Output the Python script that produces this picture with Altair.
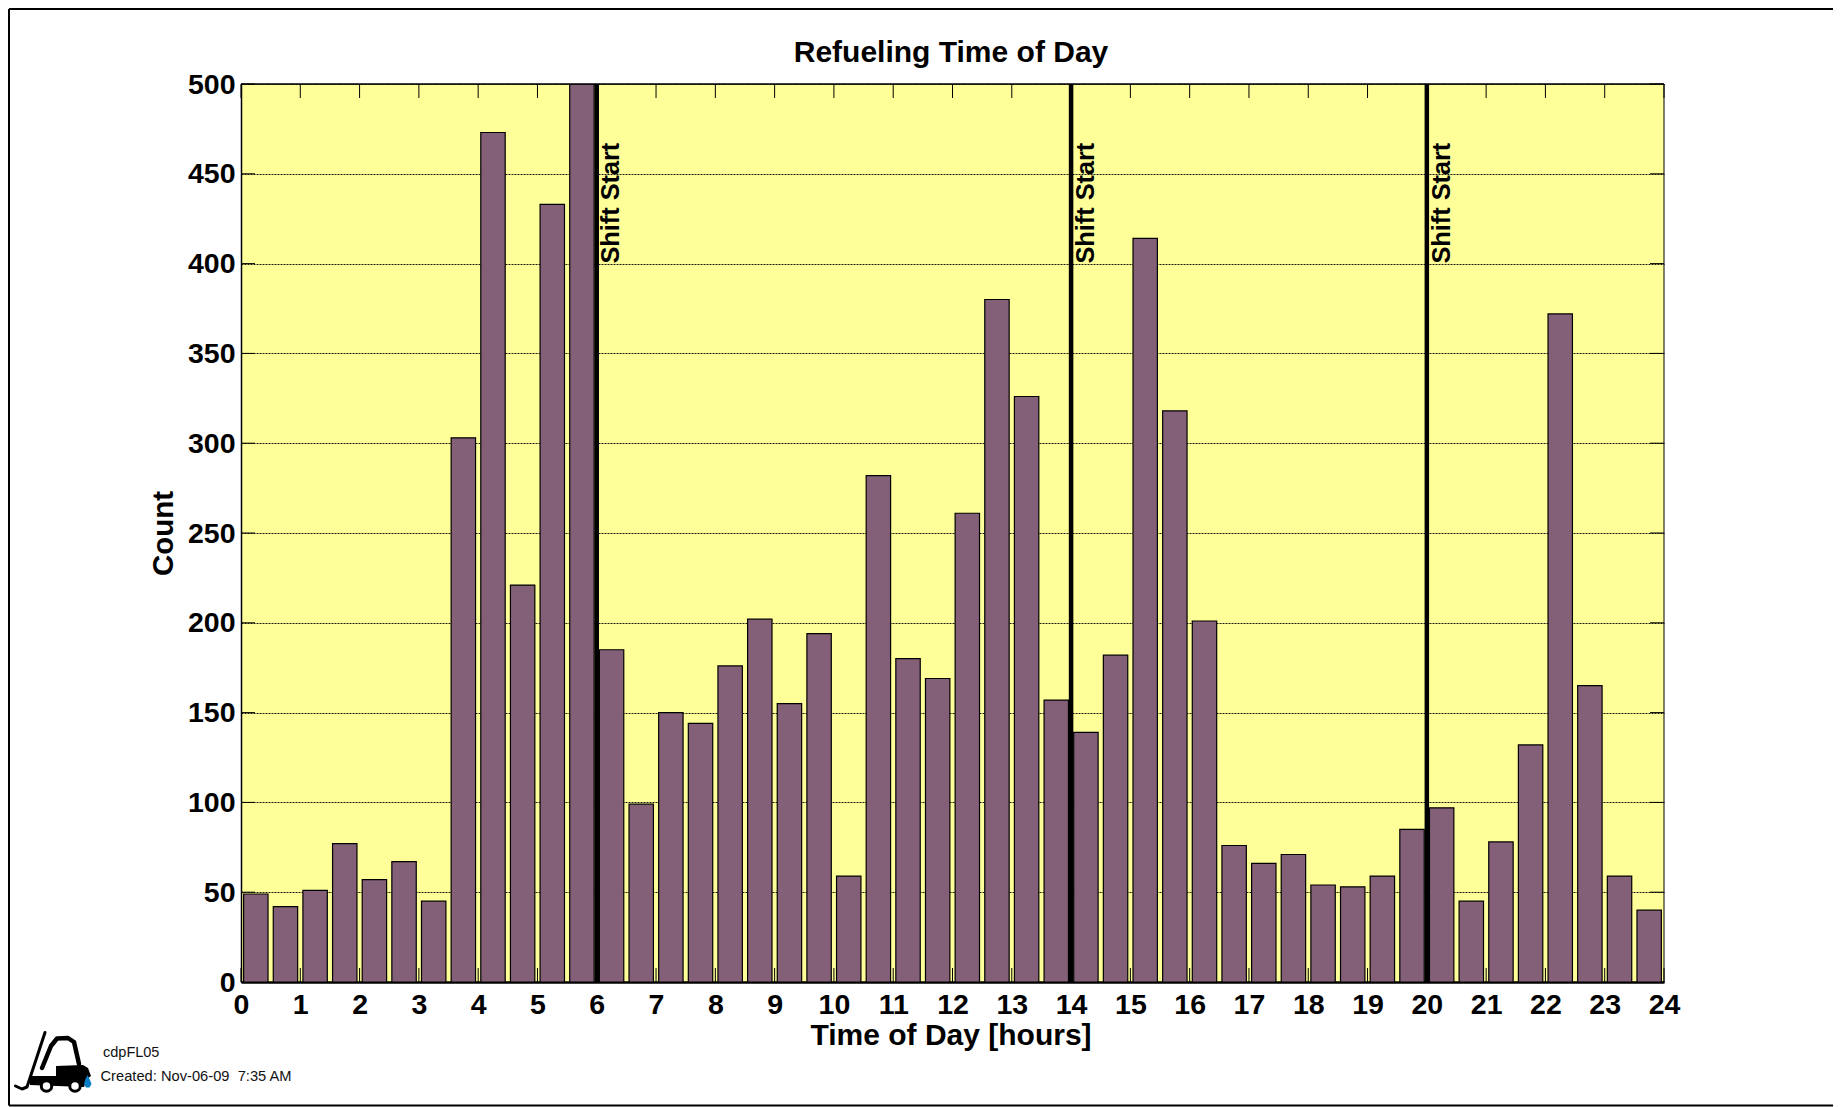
import altair as alt
import pandas as pd

counts = [49, 42, 51, 77, 57, 67, 45, 303, 473, 221, 433, 500,
          185, 99, 150, 144, 176, 202, 155, 194, 59, 282, 180, 169,
          261, 380, 326, 157, 139, 182, 414, 318, 201, 76, 66, 71,
          54, 53, 59, 85, 97, 45, 78, 132, 372, 165, 59, 40]
bin_centers = [0.25 + i * 0.5 for i in range(48)]
hour_ticks = list(range(25))
count_ticks = list(range(0, 501, 50))
shift_starts = [6, 14, 20]

PLOT_W, PLOT_H = 1423, 898
LEFT, TOP = 241, 84           # page position of the plot area
FONT = "Liberation Sans"
YELLOW, PURPLE = "#FFFF99", "#846078"

bars_df = pd.DataFrame({"hour": bin_centers, "count": counts})
hours_df = pd.DataFrame({"hour": hour_ticks})
levels_df = pd.DataFrame({"count": count_ticks})
shift_df = pd.DataFrame({"hour": shift_starts, "count": [400] * 3, "label": ["Shift Start"] * 3})

xs = alt.Scale(domain=[0, 24], nice=False, zero=False, padding=0)
ys = alt.Scale(domain=[0, 500], nice=False)
X = alt.X("hour:Q", scale=xs, title="Time of Day [hours]",
          axis=alt.Axis(values=hour_ticks, ticks=False, grid=False, labelFontSize=28.5,
                        labelFont=FONT, labelFontWeight="bold", labelColor="black",
                        labelPadding=8, labelOverlap=False, labelFlush=False,
                        domainColor="black", domainWidth=2.5,
                        titleFont=FONT, titleFontSize=30, titleFontWeight="bold",
                        titleColor="black", titlePadding=1.5, titleX=PLOT_W / 2 - 2, format="d"))
Y = alt.Y("count:Q", scale=ys, title="Count",
          axis=alt.Axis(values=count_ticks, ticks=False, grid=True, gridColor="black",
                        gridDash=[2, 1], gridWidth=1, gridOpacity=0.9, labelFontSize=28.5,
                        labelFont=FONT, labelFontWeight="bold", labelColor="black",
                        labelPadding=6, labelOverlap=False, labelFlush=False,
                        domainColor="black", domainWidth=1.5,
                        titleFont=FONT, titleFontSize=29.5, titleFontWeight="bold",
                        titleColor="black", titlePadding=9, format="d"))

bars = alt.Chart(bars_df).mark_bar(size=24.4, color=PURPLE, stroke="black", strokeWidth=1.2,
                                   clip=True).encode(x=X, y=Y)

tick_x = alt.X("hour:Q", scale=xs)
tick_y = alt.Y("count:Q", scale=ys)
ticks = [
    alt.Chart(hours_df).mark_rule(color="black", strokeWidth=1).encode(
        x=tick_x, y=alt.value(PLOT_H), y2=alt.value(PLOT_H - 14)),
    alt.Chart(hours_df).mark_rule(color="black", strokeWidth=1).encode(
        x=tick_x, y=alt.value(0), y2=alt.value(14)),
    alt.Chart(levels_df).mark_rule(color="black", strokeWidth=1).encode(
        y=tick_y, x=alt.value(0), x2=alt.value(14)),
    alt.Chart(levels_df).mark_rule(color="black", strokeWidth=1).encode(
        y=tick_y, x=alt.value(PLOT_W), x2=alt.value(PLOT_W - 14)),
]

box = [
    alt.Chart(hours_df.head(1)).mark_rule(color="black", strokeWidth=1.5).encode(
        x=alt.value(0), x2=alt.value(PLOT_W), y=alt.value(0)),
    alt.Chart(hours_df.head(1)).mark_rule(color="black", strokeWidth=1).encode(
        x=alt.value(PLOT_W), y=alt.value(0), y2=alt.value(PLOT_H)),
]

shift_lines = alt.Chart(shift_df).mark_rule(color="black", strokeWidth=4.5).encode(x=tick_x)
shift_text = alt.Chart(shift_df).mark_text(
    angle=270, align="left", baseline="top", dx=0, dy=2.7, font=FONT, fontSize=25.3,
    fontWeight="bold", color="black").encode(x=tick_x, y=tick_y, text="label:N")


def frame_rule(x1, y1, x2, y2):
    return alt.Chart(hours_df.head(1)).mark_rule(color="black", strokeWidth=2).encode(
        x=alt.value(x1 - LEFT), x2=alt.value(x2 - LEFT),
        y=alt.value(y1 - TOP), y2=alt.value(y2 - TOP))


frame = [
    frame_rule(9, 9, 1839.5, 9),
    frame_rule(9, 1105.5, 1839.5, 1105.5),
    frame_rule(9, 9, 9, 1105.5),
    frame_rule(1839.5, 9, 1839.5, 1105.5),
]


def page_text(text, px, py, size, align="left", weight="normal", color="#111111"):
    return alt.Chart(hours_df.head(1)).mark_text(
        text=text, align=align, baseline="middle", font=FONT, fontSize=size,
        fontWeight=weight, color=color
    ).encode(x=alt.value(px - LEFT), y=alt.value(py - TOP))


# Forklift logo: custom symbol paths (page coordinates mapped to the symbol's unit box)
LOGO_CX, LOGO_CY, LOGO_R = 54, 1062, 40


def logo_path(points, close=True):
    parts = [f"{(x - LOGO_CX) / LOGO_R:.3f},{(y - LOGO_CY) / LOGO_R:.3f}" for x, y in points]
    return "M" + " L".join(parts) + (" Z" if close else "")


def logo_shape(path, fill=None, stroke=None, width=0):
    kw = dict(shape=path, size=(2 * LOGO_R) ** 2, opacity=1)
    if fill:
        kw.update(filled=True, fill=fill, strokeWidth=0)
    else:
        kw.update(filled=False, stroke=stroke, strokeWidth=width, strokeJoin="round", strokeCap="round")
    return alt.Chart(hours_df.head(1)).mark_point(**kw).encode(
        x=alt.value(LOGO_CX - LEFT), y=alt.value(LOGO_CY - TOP))


def wheel(px, py):
    return alt.Chart(hours_df.head(1)).mark_point(
        shape="circle", size=110, filled=True, fill="white", stroke="black", strokeWidth=3, opacity=1
    ).encode(x=alt.value(px - LEFT), y=alt.value(py - TOP))


logo = [
    logo_shape(logo_path([(45, 1032.5), (27, 1087), (22, 1089), (15.5, 1086)], close=False),
               stroke="black", width=3),
    logo_shape(logo_path([(42, 1068), (51, 1046), (57, 1038.5), (68, 1038), (74, 1042), (79, 1064)], close=False),
               stroke="black", width=4.5),
    logo_shape(logo_path([(30, 1076), (56, 1076), (56, 1066), (83, 1065), (88, 1068), (91, 1076),
                          (87, 1079), (84, 1087), (30, 1085)]), fill="black"),
    logo_shape(logo_path([(87.5, 1075), (90, 1080), (91.5, 1084), (89.5, 1087.5), (86, 1087.5),
                          (84, 1084), (85, 1080)]), fill="#0A7CC4"),
    wheel(46.5, 1086),
    wheel(75, 1086),
]

layers = ticks + [bars] + box + [shift_lines, shift_text] + frame + [
    page_text("Refueling Time of Day", 951, 53, 30, align="center", weight="bold", color="black"),
    page_text("cdpFL05", 103, 1053, 14.5),
    page_text("Created: Nov-06-09\u00a0\u00a07:35 AM", 100.5, 1077, 14.7),
] + logo

chart = alt.layer(*layers).properties(
    width=PLOT_W, height=PLOT_H,
    background="white",
    autosize=alt.AutoSizeParams(type="none"),
    padding={"left": LEFT - 8, "top": TOP - 8, "right": 1841 - 8 - LEFT - PLOT_W,
             "bottom": 1107 - TOP - PLOT_H},
).configure_view(fill=YELLOW, stroke=None)

chart.save("out.html", embed_options={"renderer": "svg", "actions": False})
